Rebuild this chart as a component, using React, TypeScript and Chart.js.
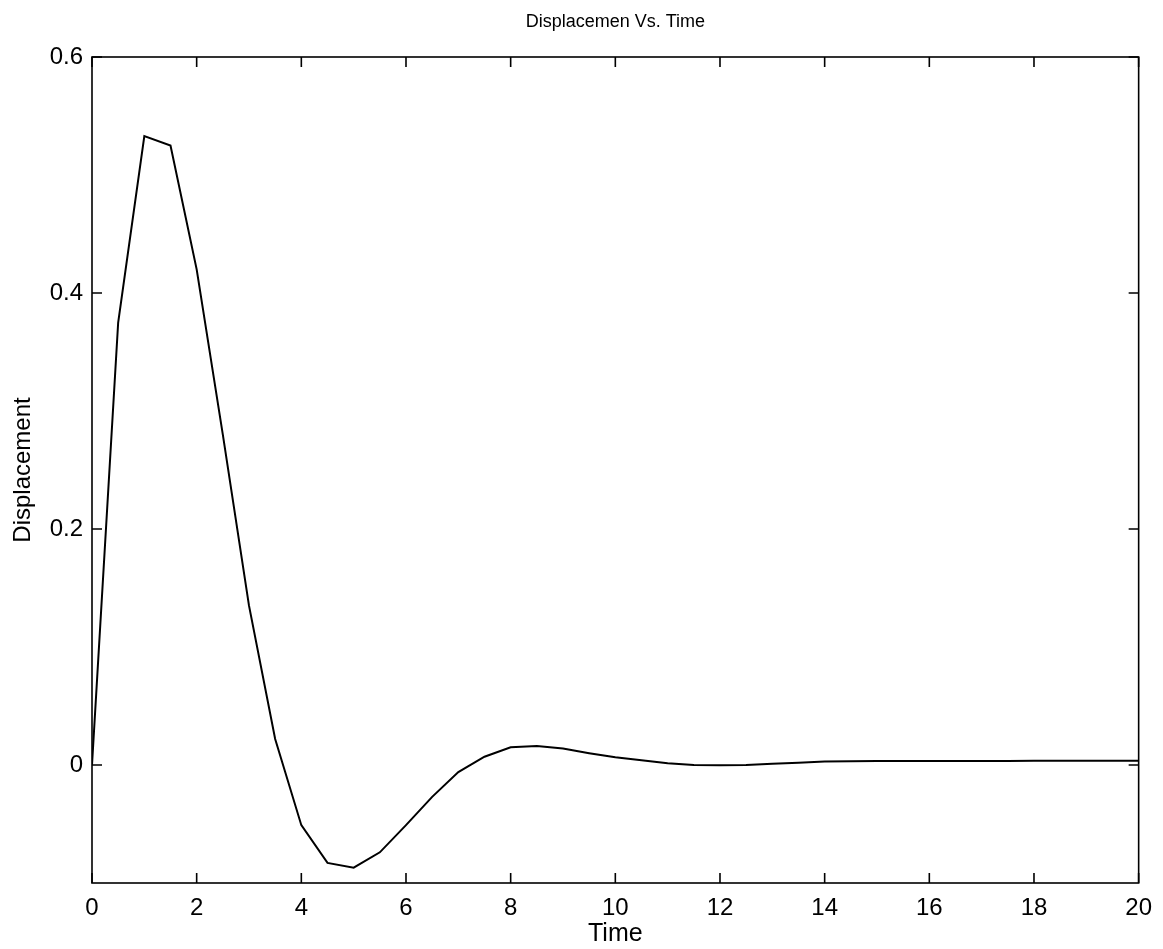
import React, { useEffect, useRef } from "react";
import { Chart, registerables } from "chart.js";

Chart.register(...registerables);

const TIME = [
  0, 0.5, 1, 1.5, 2, 2.5, 3, 3.5, 4, 4.5, 5, 5.5, 6, 6.5, 7, 7.5, 8, 8.5, 9, 9.5,
  10, 10.5, 11, 11.5, 12, 12.5, 13, 13.5, 14, 14.5, 15, 15.5, 16, 16.5, 17, 17.5,
  18, 18.5, 19, 19.5, 20,
];
const DISPLACEMENT = [
  0, 0.375, 0.533, 0.525, 0.42, 0.28, 0.135, 0.022, -0.051, -0.083, -0.087, -0.074,
  -0.051, -0.027, -0.006, 0.007, 0.015, 0.016, 0.014, 0.01, 0.0065, 0.004, 0.0015,
  0.0, -0.0003, 0.0, 0.001, 0.002, 0.003, 0.0032, 0.0033, 0.0033, 0.0033, 0.0034,
  0.0034, 0.0034, 0.0035, 0.0035, 0.0035, 0.0035, 0.0036,
];
const X_TICKS = [0, 2, 4, 6, 8, 10, 12, 14, 16, 18, 20];
const Y_TICKS = [0, 0.2, 0.4, 0.6];
const Y_TICK_LABELS = ["0", "0.2", "0.4", "0.6"];
const TITLE = "Displacemen Vs. Time";

const FONT = "'Liberation Sans', Arial, Helvetica, sans-serif";

const framePlugin = {
  id: "frameTicks",
  afterDraw(chart: any) {
    const { ctx, chartArea } = chart;
    const { left, right, top, bottom } = chartArea;
    const xs = chart.scales.x;
    const ys = chart.scales.y;
    const len = 10;
    ctx.save();
    ctx.strokeStyle = "#000";
    ctx.lineWidth = 1.6;
    ctx.strokeRect(left, top, right - left, bottom - top);
    ctx.beginPath();
    X_TICKS.forEach((v) => {
      const px = xs.getPixelForValue(v);
      ctx.moveTo(px, bottom);
      ctx.lineTo(px, bottom - len);
      ctx.moveTo(px, top);
      ctx.lineTo(px, top + len);
    });
    Y_TICKS.forEach((v) => {
      const py = ys.getPixelForValue(v);
      ctx.moveTo(left, py);
      ctx.lineTo(left + len, py);
      ctx.moveTo(right, py);
      ctx.lineTo(right - len, py);
    });
    ctx.stroke();
    // title centred over the plot area
    ctx.fillStyle = "#000";
    ctx.font = `18px ${FONT}`;
    ctx.textAlign = "center";
    ctx.textBaseline = "middle";
    ctx.fillText(TITLE, (left + right) / 2, 22);
    ctx.restore();
  },
};

export default function App() {
  const ref = useRef<HTMLCanvasElement | null>(null);

  useEffect(() => {
    if (!ref.current) return;
    const chart = new Chart(ref.current, {
      type: "line",
      data: {
        datasets: [
          {
            data: TIME.map((t, i) => ({ x: t, y: DISPLACEMENT[i] })),
            borderColor: "#000",
            borderWidth: 2,
            pointRadius: 0,
            tension: 0,
            fill: false,
          },
        ],
      },
      options: {
        responsive: false,
        animation: false,
        devicePixelRatio: 1,
        layout: { padding: { left: 0, right: 23, top: 57, bottom: 0 } },
        plugins: {
          legend: { display: false },
          tooltip: { enabled: false },
          title: { display: false },
        },
        scales: {
          x: {
            type: "linear",
            min: 0,
            max: 20,
            afterBuildTicks: (scale: any) => {
              scale.ticks = X_TICKS.map((v) => ({ value: v }));
            },
            afterFit: (scale: any) => {
              scale.height = 66;
            },
            grid: { display: false, drawTicks: false },
            border: { display: false },
            ticks: {
              color: "#000",
              font: { family: FONT, size: 24 },
              padding: 11,
              maxRotation: 0,
              autoSkip: false,
              callback: (v: any) => String(v),
            },
            title: {
              display: true,
              text: "Time",
              color: "#000",
              font: { family: FONT, size: 25 },
              padding: { top: 0, bottom: 0 },
            },
          },
          y: {
            type: "linear",
            min: -0.1,
            max: 0.6,
            afterBuildTicks: (scale: any) => {
              scale.ticks = Y_TICKS.map((v) => ({ value: v }));
            },
            afterFit: (scale: any) => {
              scale.width = 92;
            },
            grid: { display: false, drawTicks: false },
            border: { display: false },
            ticks: {
              color: "#000",
              font: { family: FONT, size: 24 },
              padding: 9,
              autoSkip: false,
              callback: (v: any) => {
                const i = Y_TICKS.findIndex((t) => Math.abs(t - v) < 1e-9);
                return i >= 0 ? Y_TICK_LABELS[i] : "";
              },
            },
            title: {
              display: true,
              text: "Displacement",
              color: "#000",
              font: { family: FONT, size: 24 },
              padding: { top: 9, bottom: 0 },
            },
          },
        },
      },
      plugins: [framePlugin],
    });
    return () => chart.destroy();
  }, []);

  return (
    <div style={{ position: "absolute", left: 0, top: 0, width: 1163, height: 949, background: "#fff" }}>
      <canvas ref={ref} width={1163} height={949} />
    </div>
  );
}
